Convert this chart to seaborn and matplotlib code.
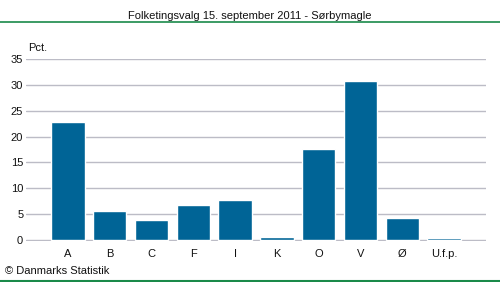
import matplotlib
matplotlib.use("Agg")
import matplotlib.pyplot as plt
import seaborn as sns
import pandas as pd

# Folketingsvalg 2011 - Sørbymagle, pct.
partier = ["A", "B", "C", "F", "I", "K", "O", "V", "Ø", "U.f.p."]
pct = [22.9, 5.6, 3.9, 6.8, 7.7, 0.5, 17.6, 30.8, 4.3, 0.3]
yticks = [0, 5, 10, 15, 20, 25, 30, 35]

df = pd.DataFrame({"parti": partier, "pct": pct})

sns.set_style("white")
plt.rcParams["font.family"] = ["Liberation Sans", "DejaVu Sans"]

fig = plt.figure(figsize=(5.0, 2.82), dpi=100)
ax = fig.add_axes([0.052, 0.146, 0.92, 0.645])

sns.barplot(data=df, x="parti", y="pct", color="#006496", width=0.8,
            saturation=1, ax=ax)
for p in ax.patches:
    p.set_zorder(3)

ax.set_xlim(-1, len(partier))
ax.set_ylim(-0.15, 35)
ax.set_yticks(yticks)
ax.yaxis.grid(True, color="#bcbcc6", linewidth=1)
ax.set_axisbelow(True)
for s in ax.spines.values():
    s.set_visible(False)
ax.tick_params(axis="both", length=0, labelsize=8, colors="#111111")
ax.tick_params(axis="x", pad=6)
ax.tick_params(axis="y", pad=2)
ax.set_xlabel("")
ax.set_ylabel("")

fig.text(0.5, 0.945, "Folketingsvalg 15. september 2011 - Sørbymagle",
         ha="center", va="center", fontsize=8, color="#111111")
fig.text(0.056, 0.83, "Pct.", ha="left", va="center", fontsize=8, color="#111111")
fig.text(0.01, 0.04, "© Danmarks Statistik", ha="left", va="center",
         fontsize=8, color="#111111")

# green divider lines
fig.add_artist(plt.Line2D([0, 1], [0.922, 0.922], color="#1a8a4a", linewidth=1.2,
                          transform=fig.transFigure))
fig.add_artist(plt.Line2D([0, 1], [0.004, 0.004], color="#1a8a4a", linewidth=1.5,
                          transform=fig.transFigure))

fig.savefig("out.png", dpi=100)
